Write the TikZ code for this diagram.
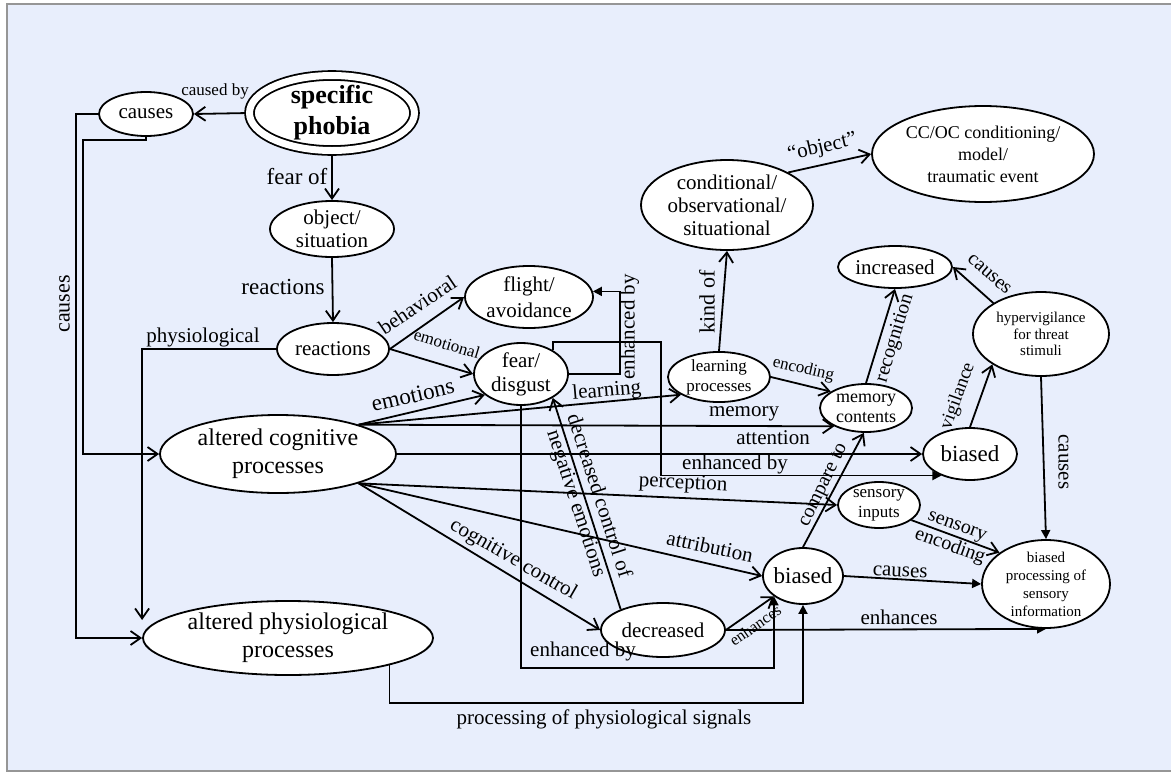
\documentclass[tikz,border=0pt]{standalone}
\usepackage{fontspec}
\setmainfont{Liberation Serif}
\usetikzlibrary{shapes.geometric, arrows.meta, calc}
\newcommand\fsz[2]{\fontsize{#1}{#2}\selectfont}
\definecolor{panel}{RGB}{232,238,252}
\definecolor{framegray}{RGB}{150,150,150}
\pgfdeclarelayer{panel}
\pgfdeclarelayer{edges}
\pgfsetlayers{panel,edges,main}

\begin{document}
\begin{tikzpicture}[x=1pt, y=-1pt,
  bub/.style={draw, ellipse, fill=white, line width=1.8pt, inner sep=0pt, align=center},
  lab/.style={inner sep=0pt, text height=0.7em, text depth=0.2em},
  lab2/.style={inner sep=0pt, align=center},
  conn/.style={line width=1.8pt, -{Straight Barb[length=10pt,width=14pt,line width=1.8pt]}},
  connf/.style={line width=1.8pt, -{Triangle[length=9pt,width=9pt]}},
]
\useasboundingbox (0,0) rectangle (1171,774);

% panel behind everything
\begin{pgfonlayer}{panel}
  \fill[white] (0,0) rectangle (1171,774);
  \draw[framegray, line width=1.5pt, fill=panel] (7,4) rectangle (1190,771);
\end{pgfonlayer}

% ---------------- concepts ----------------
\node[bub, double=white, double distance=7pt, line width=1.8pt,
      minimum width=165pt, minimum height=75pt, inner ysep=-2pt,
      font=\bfseries\fsz{26}{31}] (sp) at (332,113) {specific\\phobia};
\node[bub, minimum width=94pt, minimum height=44pt, font=\fsz{21}{24}] (cau) at (146,114) {causes};
\node[bub, minimum width=124pt, minimum height=56pt, font=\fsz{21}{23}] (obj) at (332,229) {object/\\situation};
\node[bub, minimum width=112pt, minimum height=52pt, font=\fsz{21}{24}] (reac) at (333,349) {reactions};
\node[bub, minimum width=128pt, minimum height=62pt, font=\fsz{21}{26}] (flight) at (529,297) {flight/\\avoidance};
\node[bub, minimum width=94pt, minimum height=62pt, font=\fsz{21}{24}] (fear) at (521,374) {fear/\\disgust};
\node[bub, minimum width=172pt, minimum height=90pt, font=\fsz{21}{23}] (cond) at (727,205) {conditional/\\observational/\\situational};
\node[bub, minimum width=222pt, minimum height=96pt, font=\fsz{18}{22}] (cc) at (983,154) {CC/OC conditioning/\\model/\\traumatic event};
\node[bub, minimum width=114pt, minimum height=42pt, font=\fsz{21}{24}] (inc) at (895,267) {increased};
\node[bub, minimum width=136pt, minimum height=84pt, font=\fsz{15}{16.5}] (hyp) at (1041,334) {hypervigilance\\for threat\\stimuli};
\node[bub, minimum width=102pt, minimum height=50pt, font=\fsz{17}{20}] (learn) at (719,377) {learning\\processes};
\node[bub, minimum width=92pt, minimum height=48pt, font=\fsz{18}{20}] (mem) at (866,408) {memory\\contents};
\node[bub, minimum width=94pt, minimum height=52pt, font=\fsz{23}{26}] (bias1) at (970,454) {biased};
\node[bub, minimum width=82pt, minimum height=46pt, font=\fsz{17}{20}] (sens) at (879,505) {sensory\\inputs};
\node[bub, minimum width=80pt, minimum height=56pt, inner xsep=-2pt, font=\fsz{23}{26}] (bias2) at (803,576) {biased};
\node[bub, minimum width=124pt, minimum height=54pt, font=\fsz{21}{24}] (dec) at (663,630) {decreased};
\node[bub, minimum width=128pt, minimum height=88pt, inner ysep=-2pt, font=\fsz{15}{18}] (bp) at (1046,584) {biased\\processing of\\sensory\\information};
\node[bub, minimum width=236pt, minimum height=78pt, font=\fsz{24}{28}] (cog) at (278,454) {altered cognitive\\processes};
\node[bub, minimum width=290pt, minimum height=74pt, font=\fsz{24}{28}] (phys) at (288,638) {altered physiological\\processes};

% ---------------- relations ----------------
\begin{pgfonlayer}{edges}
  \draw[conn] (sp.west) -- (cau.east);
  \draw[conn] (sp.south) -- (obj.north);
  \draw[conn] (obj.south) -- (reac.north);
  \draw[conn] (cau.south) |- (83,140) |- (cog.west);
  \draw[conn] (cau.west) -- (76,114) |- (phys.west);
  \draw[conn] (reac.west) -| ([yshift=18pt]phys.west);
  \draw[conn] (reac.east) -- (flight.west);
  \draw[conn] (reac.east) -- (fear.west);
  \draw[conn] (cog.20) -- (fear.210);
  \draw[conn] (cog.20) -- (learn.205);
  \draw[conn] (cog.20) -- (mem.210);
  \draw[conn] (cog.east) -- (bias1.west);
  \draw[connf] (fear.37) |- (661,342) |- (bias1.217);
  \draw[connf] (fear.east) -- ++(51,0) |- (flight.5);
  \draw[conn] (learn.north) -- (cond.south);
  \draw[conn] (cond.28) -- (cc.west);
  \draw[conn] (learn.east) -- (mem.155);
  \draw[conn] (mem.north) -- (inc.south);
  \draw[conn] (hyp.147) -- (inc.east);
  \draw[conn] (bias1.north) -- (hyp.212);
  \draw[connf] (hyp.south) -- (bp.north);
  \draw[conn] (bias2.north) -- (mem.265);
  \draw[conn] (cog.-20) -- (sens.west);
  \draw[conn] (cog.-20) -- (bias2.west);
  \draw[conn] (cog.-20) -- (dec.west);
  \draw[conn] (dec.154) -- (fear.-37);
  \draw[connf] (fear.south) |- ($(bias2.215)+(0,72)$) -- (bias2.215);
  \draw[connf] (phys.-15) |- ($(bias2.south)+(0,98)$) -- (bias2.south);
  \draw[conn] (dec.east) -- (bias2.215);
  \draw[connf] (dec.east) -- (bp.south);
  \draw[connf] (bias2.east) -- (bp.west);
  \draw[conn] (sens.-25) -- (bp.146);
\end{pgfonlayer}

% ---------------- relation labels ----------------
\node[lab, font=\fsz{17}{20}] (tCausedBy) at (215,93) {caused by};
\node[lab, font=\fsz{23}{26}] (tFearOf) at (297,182) {fear of};
\node[lab, font=\fsz{23}{26}] (tReact) at (283,292) {reactions};
\node[lab, font=\fsz{22}{25}, rotate=90] (tCausesL) at (67,304) {causes};
\node[lab, font=\fsz{21}{24}] (tPhysio) at (203,340) {physiological};
\node[lab, font=\fsz{21}{24}, rotate=34] (tBehav) at (420,309) {behavioral};
\node[lab, font=\fsz{17}{20}, rotate=-17] (tEmotional) at (446,347) {emotional};
\node[lab, font=\fsz{23}{26}, rotate=13] (tEmotions) at (414,400) {emotions};
\node[lab, font=\fsz{21}{24}, rotate=5] (tLearning) at (607,394) {learning};
\node[lab, font=\fsz{21}{24}] (tMemory) at (744,414) {memory};
\node[lab, font=\fsz{21}{24}] (tAttention) at (773,442) {attention};
\node[lab, font=\fsz{21}{24}] (tEnhTop) at (735,467) {enhanced by};
\node[lab, font=\fsz{21}{24}, rotate=90] (tEnhFlight) at (632,327) {enhanced by};
\node[lab, font=\fsz{22}{25}, rotate=90] (tKindOf) at (712,302) {kind of};
\node[lab, font=\fsz{21}{24}, rotate=13] (tObject) at (823,150) {“object”};
\node[lab, font=\fsz{17}{20}, rotate=-13] (tEncoding) at (803,371) {encoding};
\node[lab, font=\fsz{20}{23}, rotate=73] (tRecog) at (897,339) {recognition};
\node[lab, font=\fsz{20}{23}, rotate=-41] (tCausesHyp) at (988,276) {causes};
\node[lab, font=\fsz{19}{22}, rotate=70] (tVigil) at (960,397) {vigilance};
\node[lab, font=\fsz{21}{24}, rotate=-90] (tCausesR) at (1061,462) {causes};
\node[lab, font=\fsz{20}{23}, rotate=64] (tCompare) at (825,486) {compare to};
\node[lab, font=\fsz{21}{24}, rotate=-3] (tPercep) at (683,486) {perception};
\node[lab, font=\fsz{21}{24}, rotate=-12] (tAttrib) at (709,551) {attribution};
\node[lab, font=\fsz{21}{24}, rotate=-30] (tCogCtrl) at (512,562) {cognitive control};
\node[lab2, font=\fsz{21}{24}, rotate=-72] (tDecCtrl) at (587,500) {decreased control of\\negative emotions};
\node[lab, font=\fsz{21}{24}] (tEnhBottom) at (583,654) {enhanced by};
\node[lab, font=\fsz{21}{24}] (tProcPhys) at (604,722) {processing of physiological signals};
\node[lab, font=\fsz{16}{19}, rotate=35] (tEnhSmall) at (757,628) {enhances};
\node[lab, font=\fsz{21}{24}] (tEnhances) at (899,622) {enhances};
\node[lab, font=\fsz{21}{24}, rotate=-3] (tCausesB) at (900,574) {causes};
\node[lab2, font=\fsz{20}{22}, rotate=-20] (tSensEnc) at (953,538) {sensory\\encoding};
\end{tikzpicture}
\end{document}
